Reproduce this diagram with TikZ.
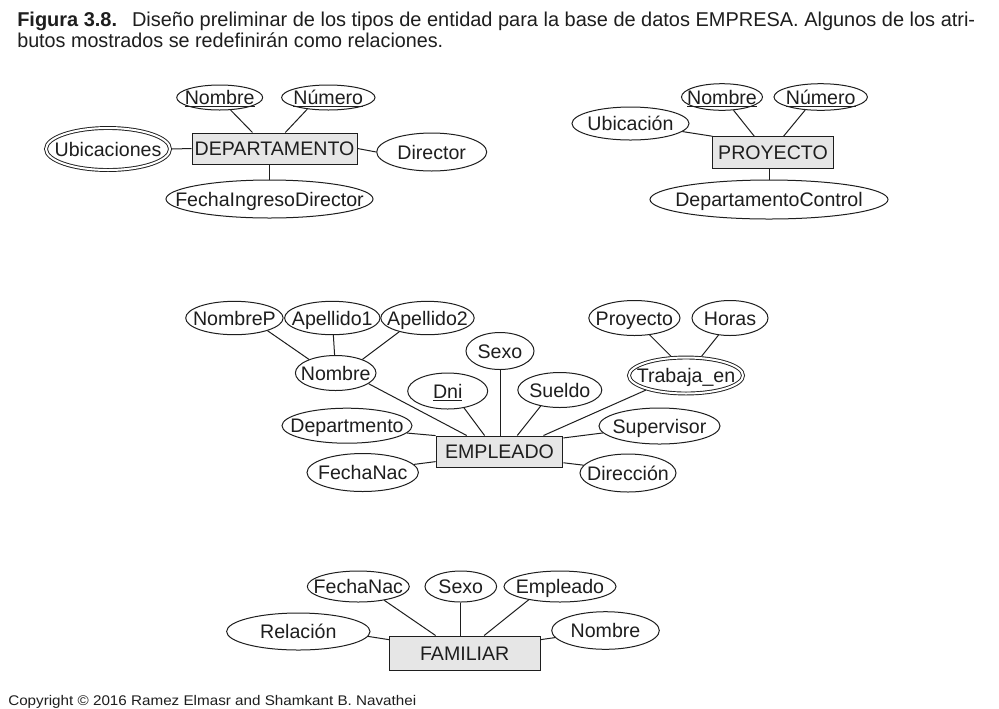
\documentclass[tikz,border=0pt]{standalone}
\usepackage{fontspec}
\setmainfont{Liberation Sans}
\usepackage{graphicx}
\usetikzlibrary{shapes.geometric}
\definecolor{boxfill}{RGB}{230,230,230}
\definecolor{ink}{RGB}{30,30,30}
\newcommand{\etq}[1]{\smash{\raisebox{-0.358em}{\makebox[0pt]{#1}}}}
\begin{document}
\begin{tikzpicture}[x=0.75pt,y=-0.75pt,
  every node/.style={font=\fontsize{14.7pt}{17pt}\selectfont, text=ink},
  attr/.style 2 args={ellipse, draw=ink, line width=0.75pt, inner sep=0pt, outer sep=0.375pt, minimum width=#1*1.5pt, minimum height=#2*1.5pt},
  mattr/.style 2 args={ellipse, draw=ink, line width=0.7pt, double, double distance=1.5pt, inner sep=0pt, outer sep=1.45pt, minimum width=(#1-2)*1.5pt, minimum height=(#2-2)*1.5pt},
  entity/.style 2 args={rectangle, draw=ink, fill=boxfill, line width=0.75pt, inner sep=0pt, outer sep=0.375pt, minimum width=#1*0.75pt, minimum height=#2*0.75pt},
  link/.style={draw=ink, line width=0.75pt},
  capt/.style={anchor=base west, inner sep=0pt}]
\fill[white] (0,0) rectangle (999,708);
\useasboundingbox (0,0) rectangle (999,708);

% caption
\node[capt] (cap1) at (17,26) {\resizebox{718.5pt}{\height}{\fontsize{15pt}{18pt}\selectfont\textbf{Figura 3.8.}\hspace{0.75em}Diseño preliminar de los tipos de entidad para la base de datos EMPRESA. Algunos de los atri-}};
\node[capt] (cap2) at (17,47) {\resizebox{319.5pt}{\height}{\fontsize{15pt}{18pt}\selectfont butos mostrados se redefinirán como relaciones.}};
\node[capt] (copy) at (8,705) {\resizebox{306pt}{\height}{\fontsize{10.5pt}{12pt}\selectfont Copyright © 2016 Ramez Elmasr and Shamkant B. Navathei}};

% DEPARTAMENTO
\node[entity={165}{31}] (d) at (274.5,148.5) {\etq{DEPARTAMENTO}};
\node[attr={43}{12.5}] (dnom) at (219.7,97.5) {\etq{\underline{Nombre}}};
\node[attr={46.7}{12.5}] (dnum) at (328.3,97.5) {\etq{\underline{Número}}};
\node[mattr={64}{23}] (dub) at (108,149) {\etq{Ubicaciones}};
\node[attr={55}{19}] (ddir) at (431.7,152) {\etq{Director}};
\node[attr={103.5}{19}] (dfid) at (269.5,199) {\etq{FechaIngresoDirector}};
\draw[link] (dnom.-49) -- (d.144);
\draw[link] (dnum.209) -- (d.56);
\draw[link] (dub.east) -- (d.west);
\draw[link] (d.east) -- (ddir.west);
\draw[link] (dfid) -- (dfid |- d.south);

% PROYECTO
\node[entity={120.6}{31.6}] (p) at (773,152.5) {\etq{PROYECTO}};
\node[attr={40.5}{13.3}] (pnom) at (722,97) {\etq{\underline{Nombre}}};
\node[attr={46.7}{13.3}] (pnum) at (820.7,97) {\etq{\underline{Número}}};
\node[attr={58.5}{16.5}] (pub) at (630.5,123.5) {\etq{Ubicación}};
\node[attr={119}{19.5}] (pdc) at (769,199.5) {\etq{DepartamentoControl}};
\draw[link] (pnom.-49) -- (p.139);
\draw[link] (pnum.220) -- (p.57);
\draw[link] (pub) -- (p.north west);
\draw[link] (pdc) -- (pdc |- p.south);

% EMPLEADO
\node[entity={126.7}{31}] (emp) at (499.5,451.5) {\etq{EMPLEADO}};
\node[attr={48.7}{16.7}] (np) at (234.4,318) {\etq{NombreP}};
\node[attr={47.7}{16.7}] (ap1) at (332.3,318) {\etq{Apellido1}};
\node[attr={46.7}{16.7}] (ap2) at (427.5,318) {\etq{Apellido2}};
\node[attr={40.3}{17.5}] (nom) at (335.7,373) {\etq{Nombre}};
\node[attr={34}{18.5}] (sexo) at (500,351) {\etq{Sexo}};
\node[attr={40}{18}] (dni) at (447.7,391) {\etq{\underline{Dni}}};
\node[attr={42}{17.5}] (sueldo) at (559.8,390) {\etq{Sueldo}};
\node[attr={45.6}{17.5}] (proy) at (634.4,318) {\etq{Proyecto}};
\node[attr={38}{17.5}] (horas) at (730,318) {\etq{Horas}};
\node[mattr={59}{20}] (tr) at (686,375.5) {\etq{Trabaja\_en}};
\node[attr={65}{17.5}] (dep) at (347,425.7) {\etq{Departmento}};
\node[attr={60.5}{18}] (sup) at (659.5,426) {\etq{Supervisor}};
\node[attr={55.7}{19}] (fn) at (362.7,472.5) {\etq{FechaNac}};
\node[attr={48}{19}] (dirc) at (628,473) {\etq{Dirección}};
\draw[link] (np.-21) -- (nom.153);
\draw[link] (ap1) -- (nom);
\draw[link] (ap2.206) -- (nom.27);
\draw[link] (proy.-48) -- (tr.128);
\draw[link] (horas.236) -- (tr.51);
\draw[link] (nom.-18) -- (emp.154.5);
\draw[link] (dni.-46) -- (emp.133);
\draw[link] (sexo) -- (sexo |- emp.north);
\draw[link] (sueldo.220) -- (emp.42);
\draw[link] (tr.200) -- (emp.20);
\draw[link] (dep.-7) -- (emp.166);
\draw[link] (sup.187) -- (emp.12);
\draw[link] (fn.9) -- (emp.189);
\draw[link] (dirc.170) -- (emp.350);

% FAMILIAR
\node[entity={150.6}{34}] (f) at (464.7,653) {\etq{FAMILIAR}};
\node[attr={51}{15.5}] (ffn) at (358.3,586.5) {\etq{FechaNac}};
\node[attr={35.8}{15.5}] (fsx) at (460.8,586.5) {\etq{Sexo}};
\node[attr={56}{15.5}] (femp) at (560,586.5) {\etq{Empleado}};
\node[attr={71.7}{18.5}] (frel) at (298.3,631.5) {\etq{Relación}};
\node[attr={53.8}{18.8}] (fnom) at (605.5,630.5) {\etq{Nombre}};
\draw[link] (ffn.-28) -- (f.149);
\draw[link] (fsx) -- (fsx |- f.north);
\draw[link] (femp.203) -- (f.42);
\draw[link] (frel.-4) -- (f.170);
\draw[link] (fnom.188) -- (f.10);
\end{tikzpicture}
\end{document}
